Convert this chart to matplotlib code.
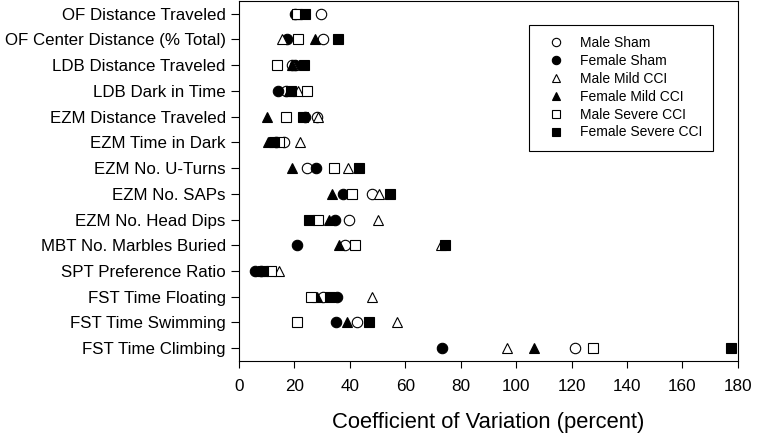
import numpy as np
import matplotlib.pyplot as plt

plt.rcParams['font.family'] = ['Liberation Sans', 'DejaVu Sans']

measures = ['OF Distance Traveled', 'OF Center Distance (% Total)', 'LDB Distance Traveled',
            'LDB Dark in Time', 'EZM Distance Traveled', 'EZM Time in Dark',
            'EZM No. U-Turns', 'EZM No. SAPs', 'EZM No. Head Dips',
            'MBT No. Marbles Buried', 'SPT Preference Ratio', 'FST Time Floating',
            'FST Time Swimming', 'FST Time Climbing']

# coefficient of variation (percent), one value per measure
male_sham = [29.5, 30.3, 19.0, 17.0, 28.0, 16.3, 24.4, 47.9, 39.7, 38.2, 8.0, 30.2, 42.7, 121.2]
female_sham = [20.2, 17.2, 20.2, 14.1, 23.8, 13.5, 27.8, 37.6, 34.6, 20.8, 5.8, 35.2, 35.0, 73.1]
male_mild = [21.0, 15.4, 19.5, 21.3, 28.5, 22.0, 39.4, 50.6, 50.3, 72.8, 14.4, 47.9, 56.9, 96.6]
female_mild = [21.0, 27.4, 19.0, 18.0, 10.1, 10.5, 19.0, 33.4, 32.5, 36.2, 7.5, 28.3, 38.8, 106.4]
male_severe = [21.0, 21.3, 13.6, 24.4, 16.8, 14.5, 34.4, 40.6, 28.6, 41.8, 11.4, 26.0, 21.0, 127.8]
female_severe = [23.8, 35.7, 23.4, 18.8, 23.0, 12.5, 43.4, 54.5, 25.3, 74.3, 8.7, 32.8, 47.0, 177.4]

series = [
    ('Male Sham', male_sham, 'o', 'white'),
    ('Female Sham', female_sham, 'o', 'black'),
    ('Male Mild CCI', male_mild, '^', 'white'),
    ('Female Mild CCI', female_mild, '^', 'black'),
    ('Male Severe CCI', male_severe, 's', 'white'),
    ('Female Severe CCI', female_severe, 's', 'black'),
]

fig = plt.figure(figsize=(7.71, 4.36), dpi=100)
ax = fig.add_axes([0.31, 0.172, 0.647, 0.826])

y = np.arange(len(measures))
for name, vals, mk, fc in series:
    ms = 7.5 if mk != 's' else 6.8
    ax.plot(vals, y, linestyle='none', marker=mk, markersize=ms, markerfacecolor=fc,
            markeredgecolor='black', markeredgewidth=0.8, label=name)

ax.set_xlim(0, 180)
ax.set_ylim(len(measures) - 0.5, -0.5)
ax.set_xticks(np.arange(0, 181, 20))
ax.set_yticks(y)
ax.set_yticklabels(measures)
ax.tick_params(axis='x', direction='out', length=5, width=0.8, labelsize=12.3, pad=8)
ax.tick_params(axis='y', direction='out', length=6, width=0.8, labelsize=12.2, pad=3.5)
ax.set_xlabel('Coefficient of Variation (percent)', fontsize=15.8, labelpad=13)
for sp in ax.spines.values():
    sp.set_linewidth(0.8)

leg = ax.legend(loc='upper right', bbox_to_anchor=(0.925, 0.943), bbox_transform=fig.transFigure,
                fontsize=10, fancybox=False, edgecolor='black', framealpha=1,
                markerscale=0.8, handletextpad=0.5, borderpad=0.8, labelspacing=0.28,
                handlelength=2.35, borderaxespad=0)
leg.get_frame().set_linewidth(0.8)

fig.savefig('out.png', dpi=100)
